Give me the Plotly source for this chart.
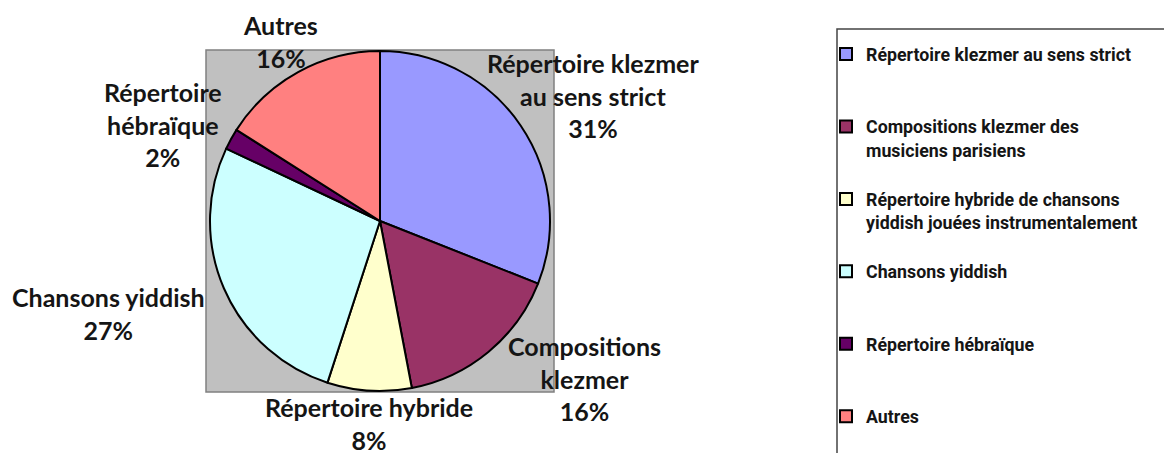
import plotly.graph_objects as go

# page size and the 8px body margin of the html page
W, H = 1172, 453
OFF = 8
FW, FH = W - OFF, H - OFF

# data
categories = [
    "Répertoire klezmer au sens strict",
    "Compositions klezmer des<br>musiciens parisiens",
    "Répertoire hybride de chansons<br>yiddish jouées instrumentalement",
    "Chansons yiddish",
    "Répertoire hébraïque",
    "Autres",
]
short_labels = [
    "Répertoire klezmer<br>au sens strict",
    "Compositions<br>klezmer",
    "Répertoire hybride",
    "Chansons yiddish",
    "Répertoire<br>hébraïque",
    "Autres",
]
values = [31, 16, 8, 27, 2, 16]
colors = ["#9999FF", "#993366", "#FFFFCC", "#CCFFFF", "#660066", "#FF8080"]

# label centres in page pixels (layout only)
label_pos = [(593, 96), (584, 378), (369, 423), (108, 313), (163, 125), (280, 42)]


def px_x(x):
    return (x - OFF) / FW


def px_y(y):
    return 1 - (y - OFF) / FH


def PadLines(txt, n=3):
    k = txt.count("<br>") + 1
    return txt + "<br> " * (n - k)


# every legend entry takes three lines so the entries sit evenly, except the last
legend_labels = [PadLines(c) for c in categories[:-1]] + [categories[-1]]

fig = go.Figure()

fig.add_trace(go.Pie(
    labels=legend_labels,
    values=values,
    sort=False,
    direction="clockwise",
    rotation=0,
    textinfo="none",
    marker=dict(colors=colors, line=dict(color="black", width=2)),
    domain=dict(x=[px_x(207), px_x(553)], y=[px_y(391), px_y(51)]),
    hoverinfo="label+percent",
))

total = sum(values)
annotations = []
for lab, v, (x, y) in zip(short_labels, values, label_pos):
    annotations.append(dict(
        x=px_x(x), y=px_y(y), xref="paper", yref="paper",
        text=f"{lab}<br>{round(v / total * 100)}%",
        showarrow=False, xanchor="center", yanchor="middle",
        font=dict(family="Lato", size=25, weight="bold", color="#151515"),
    ))

shapes = [
    # grey plot area behind the pie
    dict(type="rect", xref="paper", yref="paper", layer="below",
         x0=px_x(206), x1=px_x(554), y0=px_y(392), y1=px_y(50),
         fillcolor="#C0C0C0", line=dict(color="#808080", width=1.5)),
    # legend frame (runs off the page)
    dict(type="rect", xref="paper", yref="paper", layer="below",
         x0=px_x(837), x1=px_x(1185), y0=px_y(470), y1=px_y(29),
         fillcolor="rgba(0,0,0,0)", line=dict(color="#444444", width=1.5)),
]

fig.update_layout(
    width=FW, height=FH,
    margin=dict(l=0, r=0, t=0, b=0, autoexpand=False),
    paper_bgcolor="white",
    plot_bgcolor="white",
    showlegend=True,
    legend=dict(
        x=px_x(826), y=px_y(36), xanchor="left", yanchor="top",
        valign="top",
        font=dict(family="Roboto", size=17.8, weight="bold", color="#151515"),
        bgcolor="rgba(0,0,0,0)",
    ),
    annotations=annotations,
    shapes=shapes,
)

fig.write_html("out.html")
